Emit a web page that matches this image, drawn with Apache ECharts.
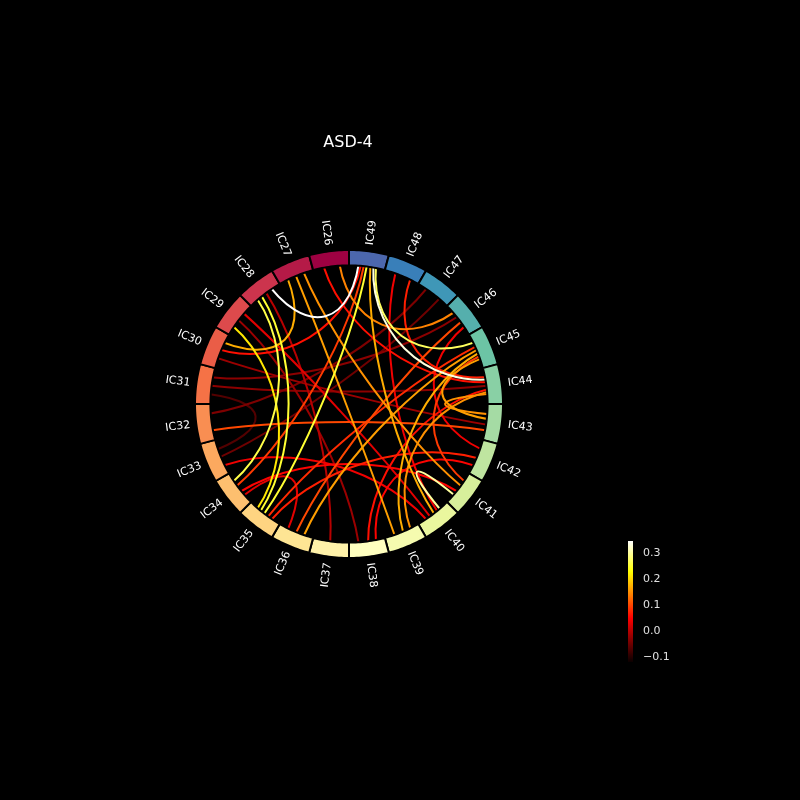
<!DOCTYPE html>
<html>
<head>
<meta charset="utf-8">
<script src="https://cdn.jsdelivr.net/npm/echarts@6/dist/echarts.min.js"></script>
<style>html,body{margin:0;padding:0;background:#000}#chart{width:800px;height:800px}</style>
</head>
<body>
<div id="chart"></div>
<script>
// ---- data ----
const chartTitle = 'ASD-4';
const nodeNames = ['IC26','IC27','IC28','IC29','IC30','IC31','IC32','IC33','IC34','IC35','IC36','IC37',
                   'IC38','IC39','IC40','IC41','IC42','IC43','IC44','IC45','IC46','IC47','IC48','IC49'];
// clockwise order starting at the top
const ringOrder = ['IC49','IC48','IC47','IC46','IC45','IC44','IC43','IC42','IC41','IC40','IC39','IC38',
                   'IC37','IC36','IC35','IC34','IC33','IC32','IC31','IC30','IC29','IC28','IC27','IC26'];
const linkFrom  = ['IC49','IC49','IC41','IC49','IC28','IC28','IC49','IC29','IC27','IC27','IC27','IC26','IC49','IC45','IC45',
                   'IC44','IC43','IC44','IC32','IC49','IC35','IC36','IC48','IC35','IC45','IC42','IC48','IC49','IC34','IC33',
                   'IC36','IC44','IC46','IC29','IC28','IC30','IC31','IC31','IC32','IC33','IC33','IC29','IC26'];
const linkTo    = ['IC28','IC44','IC40','IC45','IC34','IC35','IC35','IC35','IC30','IC39','IC41','IC46','IC40','IC36','IC39',
                   'IC39','IC45','IC43','IC43','IC34','IC45','IC46','IC44','IC42','IC41','IC38','IC40','IC30','IC41','IC40',
                   'IC34','IC38','IC42','IC40','IC37','IC43','IC44','IC46','IC47','IC47','IC31','IC38','IC44'];
const linkValue = [0.345,0.33,0.30,0.27,0.26,0.25,0.25,0.21,0.17,0.16,0.15,0.14,0.17,0.16,0.17,
                   0.15,0.16,0.15,0.10,0.09,0.08,0.10,0.07,0.07,0.09,0.05,0.04,0.06,0.05,0.04,
                   0.03,0.06,0.04,0.03,0.00,-0.02,-0.03,-0.03,-0.04,-0.05,-0.07,-0.02,0.06];
const vmin = -0.12, vmax = 0.345;
const colorbarTicks = [-0.1, 0.0, 0.1, 0.2, 0.3];

// ---- colormaps ----
function lerp(a,b,t){return a+(b-a)*t;}
function hot(x){
  x = Math.max(0, Math.min(1, x));
  const r = x < 0.365079 ? lerp(0.0416, 1, x/0.365079) : 1;
  const g = x < 0.365079 ? 0 : (x < 0.746032 ? (x-0.365079)/(0.746032-0.365079) : 1);
  const b = x < 0.746032 ? 0 : (x-0.746032)/(1-0.746032);
  return 'rgb(' + Math.round(r*255) + ',' + Math.round(g*255) + ',' + Math.round(b*255) + ')';
}
const spectralStops = [[158,1,66],[213,62,79],[244,109,67],[253,174,97],[254,224,139],[255,255,191],
                       [230,245,152],[171,221,164],[102,194,165],[50,136,189],[94,79,162]];
function spectral(x){
  const p = x*10, i = Math.min(9, Math.floor(p)), t = p - i;
  const a = spectralStops[i], b = spectralStops[i+1];
  return 'rgb(' + [0,1,2].map(k => Math.round(lerp(a[k], b[k], t))).join(',') + ')';
}
const hotColors = [];
for (let i = 0; i <= 64; i++) hotColors.push(hot(i/64));

// ---- build series data ----
const N = ringOrder.length;
const pos = n => ringOrder.indexOf(n);
const incident = ringOrder.map(() => []);
linkFrom.forEach((f, i) => {
  const a = pos(f), b = pos(linkTo[i]);
  incident[a].push({i: i, end: 0, d: (b - a + N) % N});
  incident[b].push({i: i, end: 1, d: (a - b + N) % N});
});
const ends = linkFrom.map(() => [0, 0]);
incident.forEach((arr, k) => {
  arr.sort((x, y) => y.d - x.d);
  const n = arr.length;
  arr.forEach((e, r) => {
    const off = n > 1 ? -0.22 + 0.44 * r / (n - 1) : 0;
    ends[e.i][e.end] = k + 0.5 + off;
  });
});
const linkData = linkValue.map((v, i) => [v, ends[i][0], ends[i][1]]).sort((a, b) => a[0] - b[0]);
const nodeData = ringOrder.map((n, k) => [0, k, nodeNames.indexOf(n)]);

function renderLink(params, api) {
  const a0 = api.value(1), a1 = api.value(2);
  const p0 = api.coord([10, a0]), c0 = api.coord([5, a0]);
  const c1 = api.coord([5, a1]), p1 = api.coord([10, a1]);
  return {
    type: 'bezierCurve',
    shape: {x1: p0[0], y1: p0[1], cpx1: c0[0], cpy1: c0[1], cpx2: c1[0], cpy2: c1[1], x2: p1[0], y2: p1[1]},
    style: {stroke: api.visual('color'), lineWidth: 2, fill: null}
  };
}
function renderNode(params, api) {
  const k = api.value(1), ci = api.value(2);
  const pts = [], steps = 16;
  for (let s = 0; s <= steps; s++) pts.push(api.coord([10, k + s/steps]));
  for (let s = steps; s >= 0; s--) pts.push(api.coord([9, k + s/steps]));
  return {type: 'polygon', shape: {points: pts},
          style: {fill: spectral(ci / 24), stroke: '#000', lineWidth: 2}};
}
function renderLabel(params, api) {
  const k = api.value(1);
  const c = api.coord([0, 0]);
  const p = api.coord([10.4, k + 0.5]);
  const ang = Math.atan2(-(p[1] - c[1]), p[0] - c[0]);
  const right = Math.cos(ang) >= 0;
  return {type: 'text', x: p[0], y: p[1], rotation: right ? ang : ang - Math.PI,
          style: {text: ringOrder[k], fill: '#ffffff', font: '11px "DejaVu Sans"',
                  align: right ? 'left' : 'right', verticalAlign: 'middle'}};
}
function renderColorbar(params, api) {
  const p0 = api.coord([0, vmax]), p1 = api.coord([1, vmin]);
  const stops = hotColors.map((c, i) => ({offset: 1 - i/(hotColors.length - 1), color: c})).reverse();
  return {type: 'rect', shape: {x: p0[0], y: p0[1], width: p1[0] - p0[0], height: p1[1] - p0[1]},
          style: {fill: {type: 'linear', x: 0, y: 0, x2: 0, y2: 1, colorStops: stops}}};
}

const chart = echarts.init(document.getElementById('chart'));
chart.setOption({
  backgroundColor: '#000000',
  animation: false,
  graphic: [{type: 'text', x: 348, y: 143,
             style: {text: chartTitle, fill: '#ffffff', font: '16px "DejaVu Sans"', align: 'center', verticalAlign: 'middle'}}],
  polar: {center: [349, 404], radius: 154},
  angleAxis: {type: 'value', min: 0, max: N, startAngle: 90, clockwise: true, show: false,
              axisLine: {show: false}, axisTick: {show: false}, axisLabel: {show: false}, splitLine: {show: false}},
  radiusAxis: {type: 'value', min: 0, max: 10, show: false,
               axisLine: {show: false}, axisTick: {show: false}, axisLabel: {show: false}, splitLine: {show: false}},
  grid: {left: 628, top: 541, width: 5, height: 121},
  xAxis: {type: 'value', min: 0, max: 1, show: false, gridIndex: 0},
  yAxis: {type: 'value', min: vmin, max: vmax, position: 'right', gridIndex: 0,
          axisLine: {show: false}, axisTick: {show: false}, splitLine: {show: false},
          axisLabel: {customValues: colorbarTicks, color: '#e0e0e0', fontSize: 11, fontFamily: 'DejaVu Sans', margin: 10,
                      formatter: v => (v < 0 ? '\u2212' : '') + Math.abs(v).toFixed(1)}},
  visualMap: {type: 'continuous', show: false, seriesIndex: 0, dimension: 0, min: vmin, max: vmax,
              inRange: {color: hotColors}},
  series: [
    {type: 'custom', coordinateSystem: 'polar', polarIndex: 0, data: linkData, renderItem: renderLink, silent: true, z: 2},
    {type: 'custom', coordinateSystem: 'polar', polarIndex: 0, data: nodeData, renderItem: renderNode, silent: true, z: 3},
    {type: 'custom', coordinateSystem: 'polar', polarIndex: 0, data: nodeData, renderItem: renderLabel, silent: true, z: 4},
    {type: 'custom', coordinateSystem: 'cartesian2d', xAxisIndex: 0, yAxisIndex: 0, data: [[0, vmin]], renderItem: renderColorbar, silent: true}
  ]
});
</script>
</body>
</html>
